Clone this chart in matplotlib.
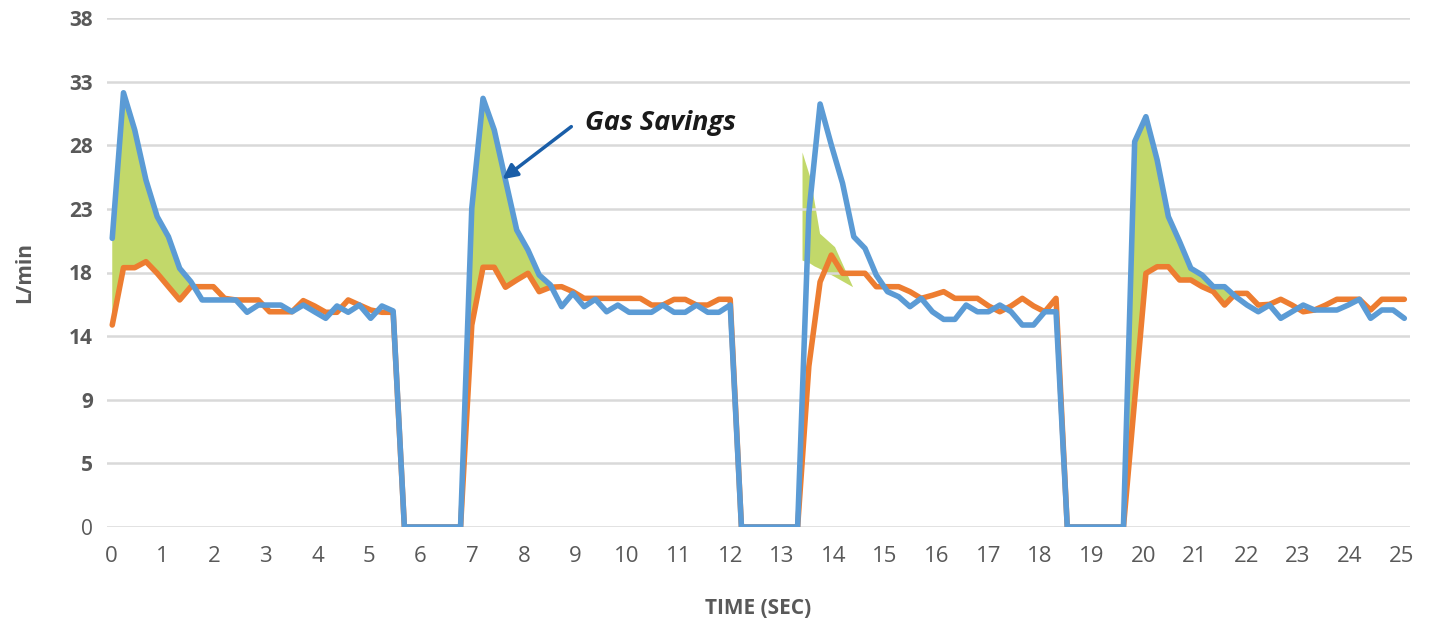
import numpy as np
import matplotlib
matplotlib.use('Agg')
import matplotlib.pyplot as plt

# sampled flow (L/min), one sample every SAMPLE_DT seconds
SAMPLE_DT = 0.2177
START_T = 0.025

standard_flow = [
    21.55, 32.42, 29.64, 25.9, 23.17, 21.67, 19.31, 18.31, 16.95, 16.95,
    16.95, 16.95, 16.03, 16.57, 16.57, 16.57, 16.07, 16.57, 16.07, 15.58,
    16.5, 16.03, 16.57, 15.58, 16.5, 16.13,
    0, 0, 0, 0, 0, 0,
    23.8, 32.0, 29.64, 25.9, 22.17, 20.68, 18.81, 18.07, 16.45, 17.45,
    16.45, 17.0, 16.07, 16.57, 16.03, 16.03, 16.03, 16.57, 16.03, 16.03,
    16.57, 16.03, 16.03, 16.57,
    0, 0, 0, 0, 0, 0,
    23.42, 31.58, 28.52, 25.66, 21.67, 20.8, 18.81, 17.57, 17.19, 16.45,
    17.07, 16.07, 15.5, 15.5, 16.57, 16.07, 16.07, 16.57, 16.07, 15.08,
    15.08, 16.07, 16.07,
    0, 0, 0, 0, 0, 0,
    28.77, 30.63, 27.4, 23.17, 21.3, 19.31, 18.81, 17.94, 17.94, 17.19,
    16.57, 16.07, 16.57, 15.58, 16.07, 16.57, 16.2, 16.2, 16.2, 16.57,
    17.0, 15.58, 16.2, 16.2, 15.58,
]

regulated_flow = [
    15.08, 19.36, 19.36, 19.81, 18.94, 17.94, 16.95, 17.94, 17.94, 17.94,
    17.07, 16.95, 16.95, 16.95, 16.07, 16.07, 16.07, 16.9, 16.5, 16.03,
    16.03, 16.95, 16.57, 16.2, 16.03, 16.03,
    0, 0, 0, 0, 0, 0,
    15.08, 19.39, 19.39, 17.9, 18.44, 18.94, 17.57, 17.9, 17.94, 17.57,
    17.07, 17.07, 17.07, 17.07, 17.07, 17.07, 16.57, 16.57, 16.99, 16.99,
    16.57, 16.57, 17.0, 17.0,
    0, 0, 0, 0, 0, 0,
    12.0, 18.3, 20.3, 18.94, 18.94, 18.94, 17.94, 17.94, 17.94, 17.57,
    17.07, 17.3, 17.57, 17.07, 17.07, 17.07, 16.5, 16.07, 16.5, 17.07,
    16.5, 16.07, 17.07,
    0, 0, 0, 0, 0, 0,
    9.5, 18.94, 19.43, 19.43, 18.44, 18.44, 17.94, 17.57, 16.57, 17.44,
    17.44, 16.57, 16.62, 17.0, 16.57, 16.07, 16.2, 16.57, 17.0, 17.0,
    17.0, 16.2, 17.0, 17.0, 17.0,
]

# arc-start windows (sec) where the savings area is shaded
savings_windows = [(0.0, 1.8), (6.8, 8.9), (19.5, 22.0)]

# the odd, shifted patch of shading on the third arc start
patch_t = [13.39, 13.54, 13.62, 13.73, 14.02, 14.37]
patch_top = [28.0, 26.15, 24.41, 21.93, 20.93, 17.94]
patch_bottom = [19.93, 19.7, 19.5, 19.3, 18.7, 17.94]

y_ticks = [0, 4.75, 9.5, 14.25, 19, 23.75, 28.5, 33.25, 38]
y_labels = ['0', '5', '9', '14', '18', '23', '28', '33', '38']
x_ticks = list(range(0, 26))

blue = np.array(standard_flow)
orange = np.array(regulated_flow)
t = START_T + SAMPLE_DT * np.arange(len(blue))

plt.rcParams['font.family'] = ['Open Sans', 'DejaVu Sans']
grey = '#595959'

fig = plt.figure(figsize=(14.3, 6.25), dpi=100)
ax = fig.add_axes([0.0746, 0.1568, 0.9114, 0.8144])

in_window = np.zeros(len(t), dtype=bool)
for a, b in savings_windows:
    in_window |= (t >= a) & (t <= b)
ax.fill_between(t, orange, blue, where=(blue > orange) & in_window,
                interpolate=True, color='#C2D86A', linewidth=0, zorder=1)
ax.fill_between(patch_t, patch_bottom, patch_top, color='#C2D86A',
                linewidth=0, zorder=0.4)

ax.plot(t, orange, color='#ED7D31', lw=4.0, solid_joinstyle='round',
        solid_capstyle='round', zorder=2)
ax.plot(t, blue, color='#5B9BD5', lw=4.0, solid_joinstyle='round',
        solid_capstyle='round', zorder=3)

ax.set_xlim(-0.083, 25.17)
ax.set_ylim(0, 38)
ax.set_yticks(y_ticks)
ax.set_yticklabels(y_labels)
ax.set_xticks(x_ticks)
ax.set_axisbelow(True)
ax.grid(axis='y', color='#D9D9D9', lw=1.8)
ax.grid(axis='x', visible=False)
for s in ax.spines.values():
    s.set_visible(False)
ax.tick_params(length=0)
ax.tick_params(axis='x', labelsize=16, labelcolor=grey, pad=14)
ax.tick_params(axis='y', labelsize=15, labelcolor=grey, pad=10)
for lab in ax.get_yticklabels():
    if lab.get_text() != '0':
        lab.set_fontweight('bold')

ax.set_xlabel('TIME (SEC)', fontsize=15, fontweight='bold', color=grey, labelpad=22)
ax.set_ylabel('L/min', fontsize=15, fontweight='bold', color=grey, labelpad=24)

ax.annotate('', xy=(7.585, 25.96), xytext=(8.92, 29.89),
            arrowprops=dict(arrowstyle='-|>', color='#1A5EA8', lw=2.5,
                            mutation_scale=22, shrinkA=0, shrinkB=0))
ax.text(9.18, 30.14, 'Gas Savings', fontsize=19.5, fontweight='bold',
        fontstyle='italic', color='#1A1A1A', va='center', ha='left')

fig.savefig('out.png', dpi=100, facecolor='white')
